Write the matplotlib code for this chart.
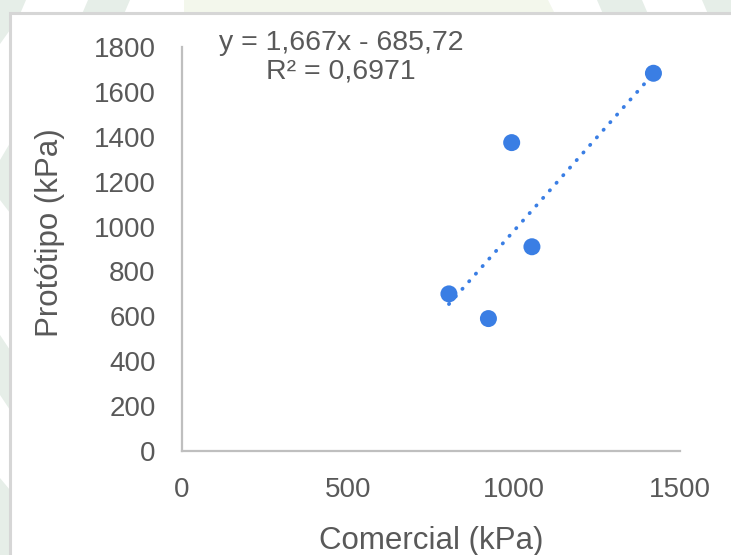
import numpy as np
import matplotlib
matplotlib.use('Agg')
import matplotlib.pyplot as plt
from matplotlib.patches import Polygon, Rectangle

# Dados (kPa)
comercial = [804, 923, 993, 1054, 1420]
prototipo = [700, 590, 1374, 910, 1683]
slope, intercept = 1.667, -685.72
eq_text = 'y = 1,667x - 685,72\nR² = 0,6971'

W, H = 731, 555
fig = plt.figure(figsize=(W / 100, H / 100), dpi=100)
fig.patch.set_facecolor('white')
plt.rcParams['font.family'] = ['Liberation Sans', 'DejaVu Sans']

# Fundo decorativo (marca d'água verde fora do gráfico)
bg = fig.add_axes([0, 0, 1, 1], zorder=-10)
bg.set_xlim(0, W)
bg.set_ylim(H, 0)
bg.axis('off')
green = '#e6eee8'
pale = '#f3f7ec'
shapes = [
    ([(0, 0), (26, 0), (20, 14), (0, 14)], green),
    ([(88, 0), (130, 0), (124, 14), (82, 14)], green),
    ([(184, 0), (548, 0), (555, 14), (184, 14)], pale),
    ([(597, 0), (642, 0), (648, 14), (603, 14)], green),
    ([(702, 0), (731, 0), (731, 14), (708, 14)], green),
    ([(0, 0), (10, 0), (10, 30), (0, 44)], green),
    ([(0, 160), (10, 143), (10, 213), (0, 200)], green),
    ([(0, 335), (10, 350), (10, 410), (0, 395)], green),
    ([(0, 478), (10, 490), (10, 555), (0, 555)], green),
]
for pts, c in shapes:
    bg.add_patch(Polygon(pts, closed=True, facecolor=c, edgecolor='none'))
bg.add_patch(Rectangle((10, 13), W, H, facecolor='white', edgecolor='#d6d6d6', linewidth=2.2))

# Área do gráfico
ax = fig.add_axes([182 / W, 1 - 451 / H, 498 / W, 404 / H])
ax.set_facecolor('none')

x_line = np.array([min(comercial), max(comercial)])
ax.plot(x_line, slope * x_line + intercept, color='#3a7ee4', linewidth=2.7,
        linestyle=(0, (0.1, 2.6)), dash_capstyle='round', zorder=2)
ax.scatter(comercial, prototipo, s=150, color='#3a7ee4', edgecolors='none', zorder=3)

ax.set_xlim(0, 1500)
ax.set_ylim(0, 1800)
ax.set_xticks([0, 500, 1000, 1500])
ax.set_yticks(np.arange(0, 1801, 200))
ax.tick_params(length=0, labelsize=20, labelcolor='#595959', pad=19)
for s in ['top', 'right']:
    ax.spines[s].set_visible(False)
for s in ['left', 'bottom']:
    ax.spines[s].set_color('#bfbfbf')
    ax.spines[s].set_linewidth(1.6)

ax.set_xlabel('Comercial (kPa)', fontsize=22.5, color='#595959')
ax.xaxis.set_label_coords(0.5, -0.185)
ax.set_ylabel('Protótipo (kPa)', fontsize=22.5, color='#595959')
ax.yaxis.set_label_coords(-0.235, 0.54)

fig.text(341 / W, 1 - 57 / H, eq_text, ha='center', va='center',
         fontsize=20.5, color='#595959', linespacing=1.1)

fig.savefig('out.png', dpi=100)
